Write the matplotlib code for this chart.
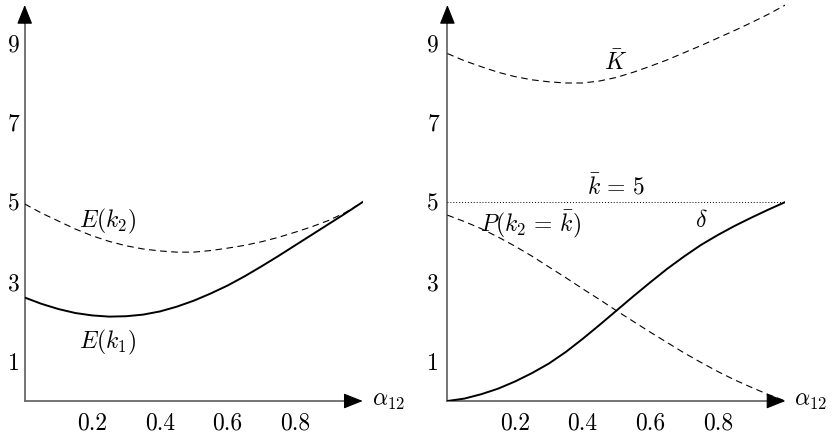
#!/usr/bin/env python3
"""Two panels of expected values against alpha_12."""

import matplotlib

matplotlib.use("Agg")
import matplotlib.pyplot as plt

plt.rcParams["mathtext.fontset"] = "cm"
plt.rcParams["font.family"] = "serif"
plt.rcParams["font.serif"] = ["cmr10", "DejaVu Serif"]
plt.rcParams["axes.formatter.use_mathtext"] = True

# values
alpha = [0.0, 0.05, 0.1, 0.15, 0.2, 0.25, 0.3, 0.35, 0.4, 0.45, 0.5,
         0.55, 0.6, 0.65, 0.7, 0.75, 0.8, 0.85, 0.9, 0.95, 1.0]

e_k1 = [2.60, 2.44, 2.31, 2.21, 2.15, 2.12, 2.13, 2.17, 2.25, 2.37, 2.52,
        2.70, 2.90, 3.13, 3.38, 3.64, 3.91, 4.18, 4.45, 4.72, 5.00]
e_k2 = [4.95, 4.72, 4.52, 4.32, 4.15, 4.01, 3.90, 3.82, 3.77, 3.74, 3.74,
        3.78, 3.84, 3.91, 4.00, 4.11, 4.24, 4.38, 4.54, 4.74, 5.00]

k_bar_cap = [8.73, 8.55, 8.40, 8.26, 8.15, 8.07, 8.02, 7.99, 7.99, 8.04, 8.13,
             8.26, 8.41, 8.57, 8.75, 8.93, 9.12, 9.31, 9.51, 9.72, 9.95]
p_k2_bar = [4.67, 4.51, 4.33, 4.12, 3.89, 3.64, 3.37, 3.10, 2.82, 2.55, 2.27,
            2.00, 1.73, 1.47, 1.21, 0.97, 0.74, 0.53, 0.34, 0.16, 0.00]
delta = [0.00, 0.06, 0.17, 0.31, 0.49, 0.70, 0.94, 1.23, 1.56, 1.91, 2.27,
         2.63, 2.98, 3.32, 3.63, 3.92, 4.17, 4.40, 4.61, 4.81, 5.00]
k_bar = 5.0

x_ticks = [0.2, 0.4, 0.6, 0.8]
x_tick_labels = ["0.2", "0.4", "0.6", "0.8"]
y_ticks = [1, 3, 5, 7, 9]
y_tick_labels = ["1", "3", "5", "7", "9"]

FS = 17
DASH = dict(color="black", lw=0.8, dashes=(6, 4))
SOLID = dict(color="black", lw=1.4)


def setup_axes(ax, ypad):
    ax.set_xlim(0, 1.0)
    ax.set_ylim(0, 10)
    for side in ("top", "right", "bottom", "left"):
        ax.spines[side].set_visible(False)
    ax.set_xticks(x_ticks, x_tick_labels)
    ax.set_yticks(y_ticks, y_tick_labels)
    ax.tick_params(axis="x", length=0, pad=8, labelsize=FS)
    ax.tick_params(axis="y", length=0, pad=ypad, labelsize=FS)

    # axis lines with arrow heads
    ax.plot([0, 0.97], [0, 0], color="#6a6a6a", lw=1.3, clip_on=False)
    ax.plot([0, 0], [0, 9.6], color="#6a6a6a", lw=1.3, clip_on=False)
    head = dict(arrowstyle="-|>,head_length=0.75,head_width=0.3",
                color="black", lw=0.8, shrinkA=0, shrinkB=0, mutation_scale=16)
    ax.annotate("", xy=(1.0, 0), xytext=(0.96, 0), arrowprops=head,
                annotation_clip=False)
    ax.annotate("", xy=(0, 9.95), xytext=(0, 9.5), arrowprops=head,
                annotation_clip=False)
    ax.text(1.075, 0.0, r"$\alpha_{12}$", fontsize=FS, ha="center",
            va="center", clip_on=False)


def main():
    fig = plt.figure(figsize=(8.35, 4.48), dpi=100)
    w, h, b = 338 / 835, 398 / 448, 47 / 448
    ax1 = fig.add_axes([24.7 / 835, b, w, h])
    ax2 = fig.add_axes([447.4 / 835, b, w, h])

    # left panel
    setup_axes(ax1, ypad=3.5)
    ax1.plot(alpha, e_k2, **DASH)
    ax1.plot(alpha, e_k1, **SOLID)
    ax1.text(0.247, 4.5, r"$E(k_2)$", fontsize=FS, ha="center", va="center")
    ax1.text(0.247, 1.48, r"$E(k_1)$", fontsize=FS, ha="center", va="center")

    # right panel
    setup_axes(ax2, ypad=6)
    ax2.plot(alpha, k_bar_cap, **DASH)
    ax2.plot([alpha[0], alpha[-1]], [k_bar, k_bar], color="black", lw=0.7,
             linestyle=(0, (1, 2)))
    ax2.plot(alpha, p_k2_bar, **DASH)
    ax2.plot(alpha, delta, **SOLID)
    ax2.text(0.496, 8.5, r"$\bar{K}$", fontsize=FS, ha="center", va="center")
    ax2.text(0.5, 5.38, r"$\bar{k}\,=\,5$", fontsize=FS, ha="center",
             va="center")
    ax2.text(0.247, 4.44, r"$P(k_2\,=\,\bar{k})$", fontsize=FS, ha="center",
             va="center")
    ax2.text(0.752, 4.53, r"$\delta$", fontsize=FS, ha="center", va="center")

    fig.savefig("out.png", dpi=100)


if __name__ == "__main__":
    main()
